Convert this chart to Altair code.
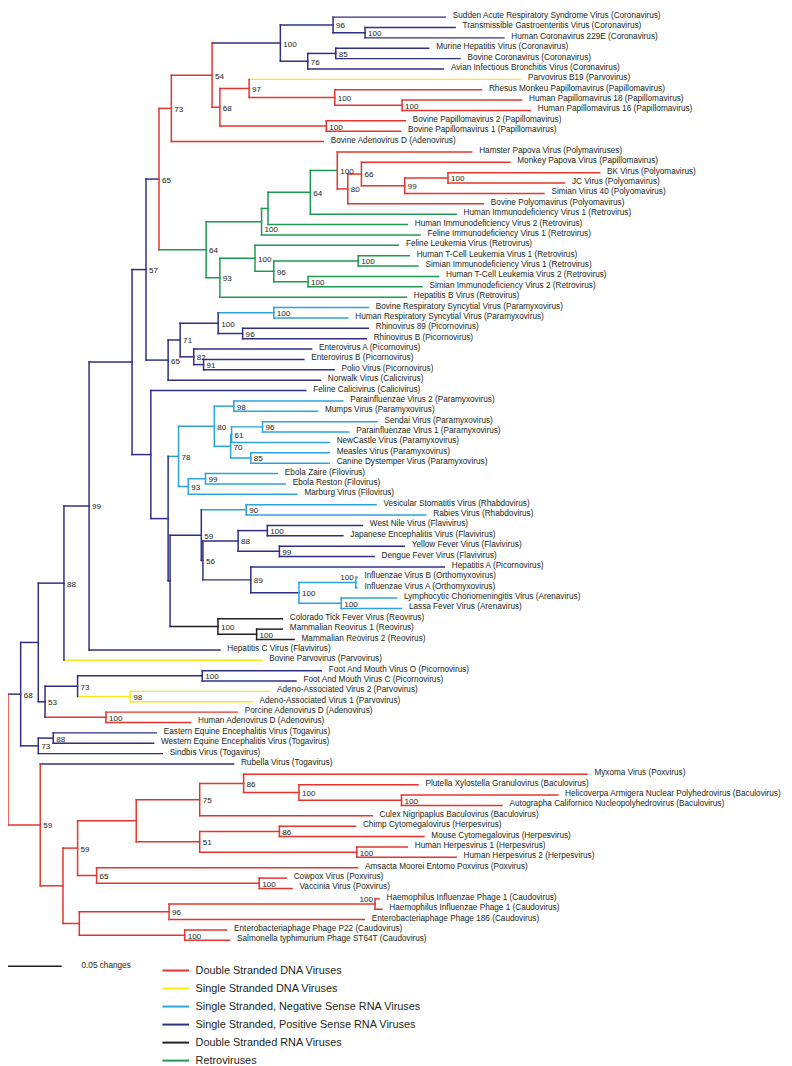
import altair as alt
import pandas as pd

# ---------------- groups / legend ----------------
GROUP_CODES = ["R", "Y", "B", "P", "K", "G"]
GROUP_NAMES = [
    "Double Stranded DNA Viruses",
    "Single Stranded DNA Viruses",
    "Single Stranded, Negative Sense RNA Viruses",
    "Single Stranded, Positive Sense RNA Viruses",
    "Double Stranded RNA Viruses",
    "Retroviruses",
]
GROUP_COLORS = ["#e5342c", "#f6eb16", "#2ba3dc", "#2f2e84", "#231f20", "#1d9a50"]

# ---------------- leaves (top to bottom) ----------------
leaf_names = [
    "Sudden Acute Respiratory Syndrome Virus (Coronavirus)",
    "Transmissible Gastroenteritis Virus (Coronavirus)",
    "Human Coronavirus 229E (Coronavirus)",
    "Murine Hepatitis Virus (Coronavirus)",
    "Bovine Coronavirus (Coronavirus)",
    "Avian Infectious Bronchitis Virus (Coronavirus)",
    "Parvovirus B19 (Parvovirus)",
    "Rhesus Monkeu Papillomavirus (Papillomavirus)",
    "Human Papillomavirus 18 (Papillomavirus)",
    "Human Papillomavirus 16 (Papillomavirus)",
    "Bovine Papillomavirus 2 (Papillomavirus)",
    "Bovine Papillomavirus 1 (Papillomavirus)",
    "Bovine Adenovirus D (Adenovirus)",
    "Hamster Papova Virus (Polymaviruses)",
    "Monkey Papova Virus (Papillomavirus)",
    "BK Virus (Polyomavirus)",
    "JC Virus (Polyomavirus)",
    "Simian Virus 40 (Polyomavirus)",
    "Bovine Polyomavirus (Polyomavirus)",
    "Human Immunodeficiency Virus 1 (Retrovirus)",
    "Human Immunodeficiency Virus 2 (Retrovirus)",
    "Feline Immunodeficiency Virus 1 (Retrovirus)",
    "Feline Leukemia Virus (Retrovirus)",
    "Human T-Cell Leukemia Virus 1 (Retrovirus)",
    "Simian Immunodeficiency Virus 1 (Retrovirus)",
    "Human T-Cell Leukemia Virus 2 (Retrovirus)",
    "Simian Immunodeficiency Virus 2 (Retrovirus)",
    "Hepatitis B Virus (Retrovirus)",
    "Bovine Respiratory Syncytial Virus (Paramyxovirus)",
    "Human Respiratory Syncytial Virus (Paramyxovirus)",
    "Rhinovirus 89 (Picornovirus)",
    "Rhinovirus B (Picornovirus)",
    "Enterovirus A (Picornovirus)",
    "Enterovirus B (Picornovirus)",
    "Polio Virus (Picornovirus)",
    "Norwalk Virus (Calicivirus)",
    "Feline Calicivirus (Calicivirus)",
    "Parainfluenzae Virus 2 (Paramyxovirus)",
    "Mumps Virus (Paramyxovirus)",
    "Sendai Virus (Paramyxovirus)",
    "Parainfluenzae Virus 1 (Paramyxovirus)",
    "NewCastle Virus (Paramyxovirus)",
    "Measles Virus (Paramyxovirus)",
    "Canine Dystemper Virus (Paramyxovirus)",
    "Ebola Zaire (Filovirus)",
    "Ebola Reston (Filovirus)",
    "Marburg Virus (Filovirus)",
    "Vesicular Stomatitis Virus (Rhabdovirus)",
    "Rabies Virus (Rhabdovirus)",
    "West Nile Virus (Flavivirus)",
    "Japanese Encephalitis Virus (Flavivirus)",
    "Yellow Fever Virus (Flavivirus)",
    "Dengue Fever Virus (Flavivirus)",
    "Hepatitis A (Picornovirus)",
    "Influenzae Virus B (Orthomyxovirus)",
    "Influenzae Virus A (Orthomyxovirus)",
    "Lymphocytic Choriomeningitis Virus (Arenavirus)",
    "Lassa Fever Virus (Arenavirus)",
    "Colorado Tick Fever Virus (Reovirus)",
    "Mammalian Reovirus 1 (Reovirus)",
    "Mammalian Reovirus 2 (Reovirus)",
    "Hepatitis C Virus (Flavivirus)",
    "Bovine Parvovirus (Parvovirus)",
    "Foot And Mouth Virus O (Picornovirus)",
    "Foot And Mouth Virus C (Picornovirus)",
    "Adeno-Associated Virus 2 (Parvovirus)",
    "Adeno-Associated Virus 1 (Parvovirus)",
    "Porcine Adenovirus D (Adenovirus)",
    "Human Adenovirus D (Adenovirus)",
    "Eastern Equine Encephalitis Virus (Togavirus)",
    "Western Equine Encephalitis Virus (Togavirus)",
    "Sindbis Virus (Togavirus)",
    "Rubella Virus (Togavirus)",
    "Myxoma Virus (Poxvirus)",
    "Plutella Xylostella Granulovirus (Baculovirus)",
    "Helicoverpa Armigera Nuclear Polyhedrovirus (Baculovirus)",
    "Autographa Californico Nucleopolyhedrovirus (Baculovirus)",
    "Culex Nigripaplus Baculovirus (Baculovirus)",
    "Chimp Cytomegalovirus (Herpesvirus)",
    "Mouse Cytomegalovirus (Herpesvirus)",
    "Human Herpesvirus 1 (Herpesvirus)",
    "Human Herpesvirus 2 (Herpesvirus)",
    "Amsacta Moorei Entomo Poxvirus (Poxvirus)",
    "Cowpox Virus (Poxvirus)",
    "Vaccinia Virus (Poxvirus)",
    "Haemophilus Influenzae Phage 1 (Caudovirus)",
    "Haemophilus Influenzae Phage 1 (Caudovirus)",
    "Enterobacteriaphage Phage 186 (Caudovirus)",
    "Enterobacteriaphage Phage P22 (Caudovirus)",
    "Salmonella typhimurium Phage ST64T (Caudovirus)",
]
leaf_parent = [
    "n96c", "n100c", "n100c", "n85", "n85", "n76", "n97", "n100pa", "n100pb", "n100pb",
    "n100bpv", "n100bpv", "n73a", "n100py", "n66", "n100bk", "n100bk", "n99py", "n80py", "n64b",
    "nG2", "nG1", "n100r", "n100h1", "n100h1", "n100h2", "n100h2", "n93r", "n100rsv", "n100rsv",
    "n96rh", "n96rh", "n82", "n91", "n91", "n65b", "nY", "n98", "n98", "n96s",
    "n96s", "n61", "n85m", "n85m", "n99f", "n99f", "n93f", "n90", "n90", "n100wn",
    "n100wn", "n99yf", "n99yf", "n89", "n100inf", "n100inf", "n100ar", "n100ar", "n100reo", "n100reo2",
    "n100reo2", "n99", "n88a", "n100fm", "n100fm", "n98aav", "n98aav", "n100ad", "n100ad", "n88t",
    "n88t", "n73t", "n59b", "n86", "n100pl", "n100hel", "n100hel", "n75", "n86h", "n86h",
    "n100hh", "n100hh", "n65pox", "n100pox", "n100pox", "n100hae", "n100hae", "n96ph", "n100p22", "n100p22",
]
# distance from root (substitutions per site, "changes")
leaf_depth = [
    0.4073, 0.4164, 0.4618, 0.3918, 0.4209, 0.4055, 0.4773, 0.4409, 0.4782, 0.4864,
    0.3700, 0.3655, 0.2936, 0.4318, 0.4673, 0.5509, 0.5182, 0.4991, 0.4427, 0.4173,
    0.3718, 0.3836, 0.3636, 0.3736, 0.3818, 0.4009, 0.3855, 0.3709, 0.3355, 0.3164,
    0.3355, 0.3336, 0.2827, 0.2755, 0.3036, 0.2909, 0.2773, 0.3118, 0.2882, 0.3436,
    0.3173, 0.2991, 0.2991, 0.2991, 0.2509, 0.2582, 0.2691, 0.3427, 0.3891, 0.3300,
    0.3118, 0.3691, 0.3409, 0.4064, 0.3250, 0.3250, 0.3618, 0.3664, 0.2555, 0.2555,
    0.2664, 0.1973, 0.2364, 0.2918, 0.2682, 0.2436, 0.2273, 0.2136, 0.1700, 0.1382,
    0.1355, 0.1436, 0.2100, 0.5391, 0.3818, 0.5118, 0.4600, 0.3391, 0.3236, 0.3873,
    0.3718, 0.4173, 0.3255, 0.2591, 0.2645, 0.3455, 0.3482, 0.3318, 0.2036, 0.2064,
]
leaf_group = list(
    "PPPPPP" "Y" "RRRRRR" "RRRRRR" "GGGGGGGGG" "BB" "PPPPPPP" "BBBBBBBBBBBB"
    "PPPPP" "BBBB" "KKK" "P" "Y" "PP" "YY" "RR" "PPPP" "RRRRRRRRRRRRRRRRR"
)

# ---------------- internal nodes ----------------
node_ids = [
    "root", "n68", "n33", "n88a", "n99", "nX", "n57", "n65a", "n73a", "n54",
    "nCor", "n96c", "n100c", "n76", "n85", "n68p", "n97", "n100pa", "n100pb", "n100bpv",
    "n64r", "nG1", "nG2", "n64b", "n100py", "n80py", "n66", "n99py", "n100bk", "n93r",
    "n100r", "n96r", "n100h1", "n100h2", "n65b", "n71", "n100p", "n100rsv", "n96rh", "n82",
    "n91", "nY", "nZ", "n78", "n80", "n98", "n70", "n61", "n96s", "n85m",
    "n93f", "n99f", "nW", "n59", "n90", "n56", "n88f", "n100wn", "n99yf", "n89",
    "n100ia", "n100inf", "n100ar", "n100reo", "n100reo2", "n53", "n73f", "n100fm", "n98aav", "n100ad",
    "n73t", "n88t", "n59b", "nP", "n59c", "nR", "n75", "n86", "n100pl", "n100hel",
    "n51", "n86h", "n100hh", "n65pox", "n100pox", "nQ", "n96ph", "n100hae", "n100p22",
]
node_parent = [
    "", "root", "n68", "n33", "n88a", "n99", "nX", "n57", "n65a", "n73a",
    "n54", "nCor", "n96c", "nCor", "n76", "n54", "n68p", "n97", "n100pa", "n68p",
    "n65a", "n64r", "nG1", "nG2", "n64b", "n100py", "n80py", "n66", "n99py", "n64r",
    "n93r", "n100r", "n96r", "n96r", "n57", "n65b", "n71", "n100p", "n100p", "n71",
    "n82", "nX", "nY", "nZ", "n78", "n80", "n80", "n70", "n61", "n70",
    "n78", "n93f", "nZ", "nW", "n59", "n59", "n56", "n88f", "n88f", "n56",
    "n89", "n100ia", "n100ia", "nW", "n100reo", "n33", "n53", "n73f", "n73f", "n53",
    "n68", "n73t", "root", "n59b", "nP", "n59c", "nR", "n75", "n86", "n100pl",
    "nR", "n51", "n51", "n59c", "n65pox", "nP", "nQ", "n96ph", "nQ",
]
node_depth = [
    0.0000, 0.0118, 0.0282, 0.0521, 0.0755, 0.1155, 0.1285, 0.1406, 0.1521, 0.1900,
    0.2536, 0.3027, 0.3325, 0.2791, 0.3052, 0.1973, 0.2245, 0.3043, 0.3670, 0.2964,
    0.1845, 0.2361, 0.2421, 0.2815, 0.3066, 0.3164, 0.3291, 0.3694, 0.4097, 0.1973,
    0.2300, 0.2475, 0.3261, 0.2794, 0.1491, 0.1603, 0.1957, 0.2475, 0.2185, 0.1730,
    0.1821, 0.1330, 0.1491, 0.1588, 0.1921, 0.2103, 0.2073, 0.2082, 0.2370, 0.2261,
    0.1679, 0.1839, 0.1509, 0.1800, 0.2218, 0.1815, 0.2143, 0.2415, 0.2527, 0.2261,
    0.2709, 0.3239, 0.3103, 0.1955, 0.2315, 0.0345, 0.0648, 0.1809, 0.1139, 0.0912,
    0.0282, 0.0421, 0.0300, 0.0512, 0.0648, 0.1194, 0.1785, 0.2194, 0.2709, 0.3664,
    0.1785, 0.2527, 0.3248, 0.0825, 0.2339, 0.0664, 0.1500, 0.3418, 0.1645,
]
node_support = [
    "", "68", "", "88", "99", "", "57", "65", "73", "54",
    "100", "96", "100", "76", "85", "68", "97", "100", "100", "100",
    "64", "100", "", "64", "100", "80", "66", "99", "100", "93",
    "100", "96", "100", "100", "65", "71", "100", "100", "96", "82",
    "91", "", "", "78", "80", "98", "70", "61", "96", "85",
    "93", "99", "", "59", "90", "56", "88", "100", "99", "89",
    "100", "100", "100", "100", "100", "53", "73", "100", "98", "100",
    "73", "88", "59", "", "59", "", "75", "86", "100", "100",
    "51", "86", "100", "65", "100", "", "96", "100", "100",
]
node_branch_group = list(
    "RPPPPPPPRR" "PPPPPRRRRR" "GGGGGRRRRG" "GGGGPPPBPP"
    "PPPBBBBBBB" "BBPPBPPPPP" "PBBKKPPPYR" "PPRRRRRRRR" "RRRRRRRRR"
)
clade_group_override = {"n65a": "R", "n100py": "R", "n100ia": "B"}
support_left = ["n100inf", "n100hae"]   # labels drawn left of the node, above its branch
support_below = ["nG1"]                 # label pushed below the node

scale_bar_length = 0.05
scale_bar_label = "0.05 changes"
scale_bar_row = 91.5

# ---------------- build tables ----------------
assert len(leaf_names) == len(leaf_parent) == len(leaf_depth) == len(leaf_group)
assert len(node_ids) == len(node_parent) == len(node_depth) == len(node_support) == len(node_branch_group)

code_to_name = dict(zip(GROUP_CODES, GROUP_NAMES))
ndepth = dict(zip(node_ids, node_depth))
children = {n: [] for n in node_ids}
for i, p in enumerate(leaf_parent):
    children[p].append(("leaf", i))
for n, p in zip(node_ids, node_parent):
    if p:
        children[p].append(("node", n))

row = {("leaf", i): float(i) for i in range(len(leaf_names))}


def node_row(n):
    key = ("node", n)
    if key not in row:
        ys = [row[c] if c[0] == "leaf" else node_row(c[1]) for c in children[n]]
        row[key] = (min(ys) + max(ys)) / 2.0
    return row[key]


for n in node_ids:
    node_row(n)

segs = []
for i, (p, d, g) in enumerate(zip(leaf_parent, leaf_depth, leaf_group)):
    segs.append({"x": ndepth[p], "x2": d, "y": row[("leaf", i)], "y2": row[("leaf", i)],
                 "group": code_to_name[g]})
for n, p, g in zip(node_ids, node_parent, node_branch_group):
    if p:
        segs.append({"x": ndepth[p], "x2": ndepth[n], "y": row[("node", n)], "y2": row[("node", n)],
                     "group": code_to_name[g]})
for n, g in zip(node_ids, node_branch_group):
    ys = [row[c] for c in children[n]]
    cg = clade_group_override.get(n, g)
    segs.append({"x": ndepth[n], "x2": ndepth[n], "y": min(ys), "y2": max(ys),
                 "group": code_to_name[cg]})
seg_df = pd.DataFrame(segs)

leaf_df = pd.DataFrame({"name": leaf_names, "depth": leaf_depth,
                        "row": [float(i) for i in range(len(leaf_names))]})
sup_df = pd.DataFrame({"id": node_ids, "support": node_support, "depth": node_depth,
                       "row": [row[("node", n)] for n in node_ids]})
sup_df = sup_df[sup_df["support"] != ""]
sup_normal = sup_df[~sup_df["id"].isin(support_left + support_below)]
sup_left = sup_df[sup_df["id"].isin(support_left)]
sup_below = sup_df[sup_df["id"].isin(support_below)]

bar_df = pd.DataFrame({"x": [0.0], "x2": [scale_bar_length], "row": [scale_bar_row],
                       "label": [scale_bar_label]})

# ---------------- chart ----------------
W, H = 784, 1058
xscale = alt.Scale(domain=[0, W / 1085.0], nice=False, zero=False)
yscale = alt.Scale(domain=[-0.36, -0.36 + H / 10.48], nice=False, zero=False, reverse=True)
FONT = "Liberation Sans"
TXT = "#231f20"

lines = alt.Chart(seg_df).mark_rule(strokeWidth=1.5, strokeCap="square").encode(
    x=alt.X("x:Q", scale=xscale, axis=None),
    x2="x2:Q",
    y=alt.Y("y:Q", scale=yscale, axis=None),
    y2="y2:Q",
    color=alt.Color(
        "group:N",
        scale=alt.Scale(domain=GROUP_NAMES, range=GROUP_COLORS),
        legend=alt.Legend(
            title=None, orient="none", legendX=163.5, legendY=961,
            symbolType="M-2.7,0H2.7", symbolSize=100, symbolStrokeWidth=2,
            symbolOffset=0, labelOffset=14, labelFont=FONT, labelFontSize=11,
            labelColor=TXT, labelLimit=500, rowPadding=7.2, padding=0,
        ),
    ),
)

leaf_text = alt.Chart(leaf_df).mark_text(
    align="left", baseline="middle", dx=7.5, dy=-1, font=FONT, fontSize=8.3, color=TXT
).encode(x=alt.X("depth:Q", scale=xscale), y=alt.Y("row:Q", scale=yscale), text="name:N")

sup_text = alt.Chart(sup_normal).mark_text(
    align="left", baseline="middle", dx=3, dy=1.5, font=FONT, fontSize=8.2, color=TXT
).encode(x=alt.X("depth:Q", scale=xscale), y=alt.Y("row:Q", scale=yscale), text="support:N")

sup_text_left = alt.Chart(sup_left).mark_text(
    align="right", baseline="middle", dx=-2, dy=-4, font=FONT, fontSize=8.2, color=TXT
).encode(x=alt.X("depth:Q", scale=xscale), y=alt.Y("row:Q", scale=yscale), text="support:N")

sup_text_below = alt.Chart(sup_below).mark_text(
    align="left", baseline="middle", dx=3, dy=8, font=FONT, fontSize=8.2, color=TXT
).encode(x=alt.X("depth:Q", scale=xscale), y=alt.Y("row:Q", scale=yscale), text="support:N")

bar = alt.Chart(bar_df).mark_rule(strokeWidth=1.5, color=TXT).encode(
    x=alt.X("x:Q", scale=xscale), x2="x2:Q", y=alt.Y("row:Q", scale=yscale)
)
bar_text = alt.Chart(bar_df).mark_text(
    align="left", baseline="middle", dx=20, font=FONT, fontSize=8.3, color=TXT
).encode(x=alt.X("x2:Q", scale=xscale), y=alt.Y("row:Q", scale=yscale), text="label:N")

chart = alt.layer(lines, leaf_text, sup_text, sup_text_left, sup_text_below, bar, bar_text).properties(
    width=W, height=H, padding=0, autosize="none", background="white"
).configure_view(stroke=None)

chart.save("out.html", embed_options={"renderer": "svg", "actions": False})
